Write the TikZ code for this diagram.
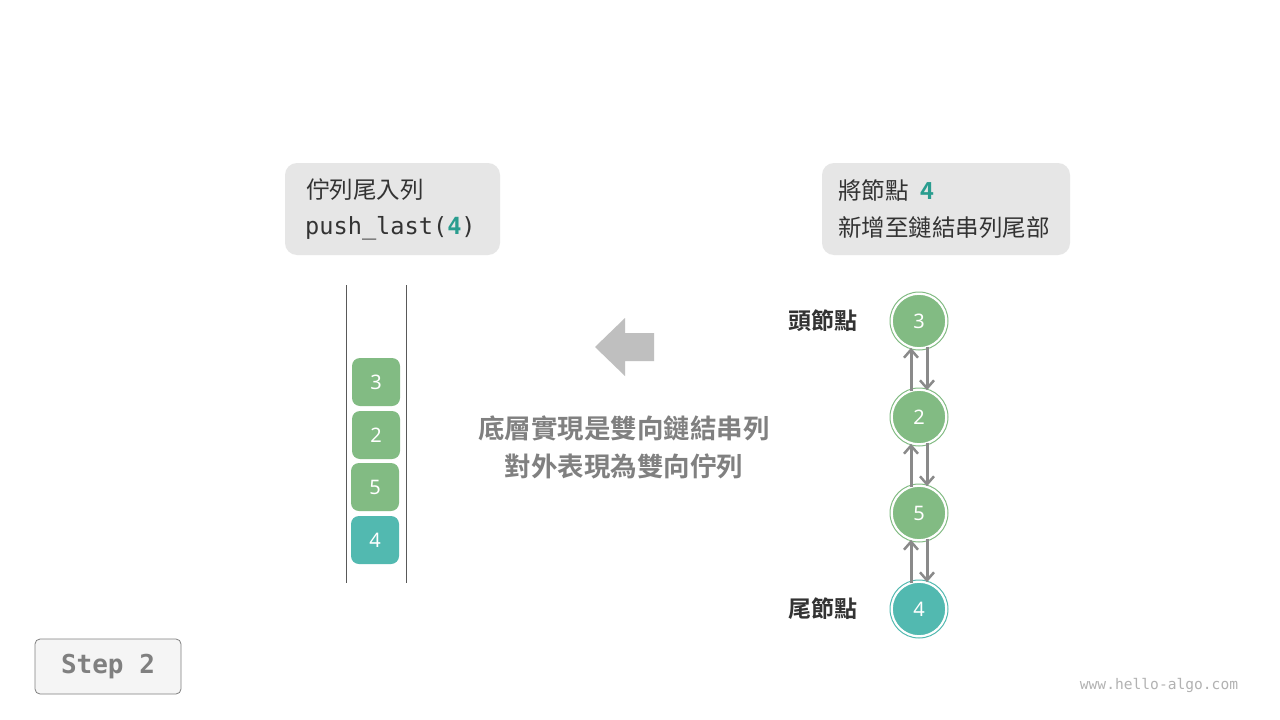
\documentclass[tikz,border=0pt]{standalone}
\usepackage{fontspec}
\setmainfont{Noto Sans CJK TC}
\newfontfamily\cjkb{Noto Sans CJK TC}[BoldFont={* Bold}]
\setmonofont{DejaVu Sans Mono}
\newfontfamily\digitfont{Noto Sans}
\usetikzlibrary{arrows.meta}
\definecolor{boxgray}{HTML}{E6E6E6}
\definecolor{nodegreen}{HTML}{82BB83}
\definecolor{nodeteal}{HTML}{52B9B0}
\definecolor{txtdark}{HTML}{333333}
\definecolor{accent}{HTML}{2A9D8F}
\definecolor{arrgray}{HTML}{8A8A8A}
\begin{document}
\begin{tikzpicture}[x=1pt,y=-1pt,
  infobox/.style={fill=boxgray,rounded corners=12pt,draw=none},
  sq/.style={minimum width=48pt,minimum height=48pt,rounded corners=8pt,inner sep=0pt,text=white,font=\digitfont\fontsize{20}{20}\selectfont},
  ll/.style={circle,minimum size=54pt,inner sep=0pt,draw=white,line width=1.6pt,text=white,font=\digitfont\fontsize{20}{20}\selectfont},
  arr/.style={draw=arrgray,line width=3pt,-{Straight Barb[length=8pt,width=14pt,line width=2.5pt]}},
  lbl/.style={font=\cjkb\bfseries\fontsize{23}{23}\selectfont,text=txtdark},
  boxtxt/.style={anchor=west,inner sep=0pt,text=txtdark,font=\fontsize{23.5}{23.5}\selectfont}
]
\useasboundingbox (0,0) rectangle (1280,720);
\fill[white] (0,0) rectangle (1280,720);
% info boxes
\fill[infobox] (285,163) rectangle (500,255);
\node[boxtxt] (t1) at (306,190) {佇列尾入列};
\node[boxtxt,font=\ttfamily\fontsize{23.6}{23.6}\selectfont] (t2) at (305,228) {push\_last(\textcolor{accent}{\bfseries 4})};
\fill[infobox] (822,163) rectangle (1070,255);
\node[boxtxt] (t3) at (838,191) {將節點\hspace{12pt}\textcolor{accent}{\cjkb\bfseries 4}};
\node[boxtxt] (t4) at (838,228) {新增至鏈結串列尾部};
% deque walls
\draw[line width=1pt,color=black!65] (346,285) -- (346,583);
\draw[line width=1pt,color=black!65] (406,285) -- (406,583);
\node[sq,fill=nodegreen] (q3) at (376,382) {3};
\node[sq,fill=nodegreen] (q2) at (376,435) {2};
\node[sq,fill=nodegreen] (q5) at (375,487) {5};
\node[sq,fill=nodeteal] (q4) at (375,540) {4};
% big arrow
\fill[black!25] (595,347) -- (625,318) -- (625,333) -- (654,333) -- (654,361) -- (625,361) -- (625,376) -- cycle;
\node[font=\cjkb\bfseries\fontsize{26.5}{26.5}\selectfont,text=black!50] (m1) at (624,428) {底層實現是雙向鏈結串列};
\node[font=\cjkb\bfseries\fontsize{26.5}{26.5}\selectfont,text=black!50] (m2) at (624,466) {對外表現為雙向佇列};
% linked list
\foreach \y/\c in {321/nodegreen,417/nodegreen,513/nodegreen,609/nodeteal}{
  \draw[\c,line width=1pt] (919,\y) circle[radius=29pt];
}
\node[ll,fill=nodegreen] (c3) at (919,321) {3};
\node[ll,fill=nodegreen] (c2) at (919,417) {2};
\node[ll,fill=nodegreen] (c5) at (919,513) {5};
\node[ll,fill=nodeteal] (c4) at (919,609) {4};
\foreach \a/\b in {c3/c2,c2/c5,c5/c4}{
  \draw[arr] ([xshift=-8pt,yshift=-2pt]\b.north) -- ([xshift=-8pt,yshift=1pt]\a.south);
  \draw[arr] ([xshift=8pt,yshift=2pt]\a.south) -- ([xshift=8pt,yshift=-1pt]\b.north);
}
\node[lbl] (h) at (823,321) {頭節點};
\node[lbl] (tl) at (823,609) {尾節點};
% step box
\node[draw=black!50,fill=black!4,rounded corners=5pt,minimum width=146pt,minimum height=55pt,line width=0.8pt,font=\ttfamily\bfseries\fontsize{26}{26}\selectfont,text=black!50] (step) at (108,666.5) {Step 2};
\node[font=\ttfamily\fontsize{14.6}{14.6}\selectfont,text=black!30] (url) at (1159,685) {www.hello-algo.com};
\end{tikzpicture}
\end{document}
